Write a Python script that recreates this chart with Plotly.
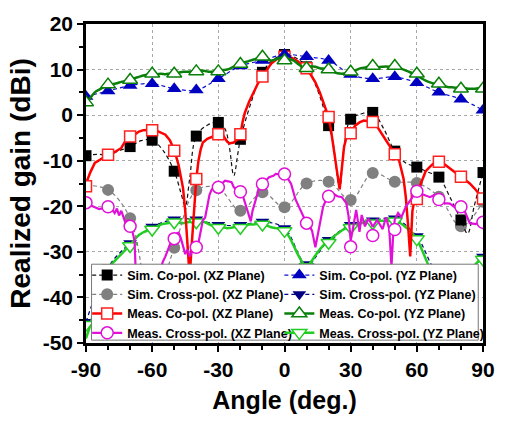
import plotly.graph_objects as go

# ---------------- data ----------------
ang10 = [-90, -80, -70, -60, -50, -40, -30, -20, -10, 0, 10, 20, 30, 40, 50, 60, 70, 80, 90]

# Sim. Co-pol. (XZ Plane): markers every 10 deg, finer simulated curve
sim_co_xz = [-8.9, -8.7, -6.9, -5.5, -12.3, -4.6, -1.6, -5.3, 9.4, 13.3, 10.6, -2.3, -0.9, 0.6, -7.9, -11.4, -13.6, -23.0, -12.6]
sim_co_xz_ang = [-90, -85, -80, -75, -70, -65, -60, -55, -50, -47, -45, -43, -40, -35, -30, -27, -25, -23, -21, -20,
                 -15, -10, -5, 0, 5, 10, 15, 20, 22, 25, 27, 30, 35, 40, 45, 50, 55, 60, 65, 70, 75, 80, 83, 86, 90]
sim_co_xz_line = [-8.9, -8.6, -8.7, -7.8, -6.9, -5.6, -5.5, -7.8, -12.3, -17.0, -20.0, -14.0, -4.6, -2.2, -1.6, -3.0, -7.0, -13.3, -8.0, -5.3,
                  3.0, 9.4, 12.2, 13.3, 12.6, 10.6, 5.5, -2.3, -6.0, -16.0, -7.0, -0.9, 0.3, 0.6, -3.0, -7.9, -10.5, -11.4, -12.5, -13.6, -18.0, -23.0, -26.0, -20.0, -12.6]

# Sim. Cross-pol. (XZ Plane)
sim_cross_xz = [-15.4, -16.4, -22.6, -42.0, -29.1, -16.5, -16.0, -21.0, -16.9, -20.2, -15.0, -14.6, -18.6, -12.7, -14.6, -14.9, -17.9, -24.4, -19.0]

# Meas. Co-pol. (XZ Plane)
meas_co_xz = [-15.6, -8.7, -4.7, -3.3, -7.8, -14.0, -4.2, -4.2, 8.5, 12.8, 10.3, -0.4, -4.0, -1.5, -8.6, -18.4, -10.2, -13.5, -18.3]
meas_co_xz_ang = [-90, -88, -86, -84, -82, -80, -78, -76, -74, -72, -70, -68, -66, -64, -62, -60, -58, -56, -54, -52, -50, -48, -46, -45,
                  -44, -43, -42, -41, -40, -39, -38, -37, -35, -33, -31, -30, -29, -28, -27, -26, -25, -24, -23, -22, -21, -20, -19, -18,
                  -16, -14, -12, -10, -8, -6, -4, -2, 0, 2, 4, 6, 8, 10, 12, 14, 16, 18, 20, 21, 22, 23, 24, 25, 26, 27, 28, 30, 32, 34,
                  36, 38, 40, 42, 44, 46, 48, 50, 52, 54, 55, 56, 57, 57.5, 58, 59, 60, 61, 62, 63, 64, 66, 68, 70, 72, 74, 76, 78, 80,
                  82, 84, 86, 88, 90]
meas_co_xz_line = [-15.0, -12.5, -10.5, -9.8, -9.3, -8.7, -8.4, -7.8, -7.2, -5.6, -4.8, -4.3, -3.6, -3.3, -3.2, -3.2, -3.4, -3.8, -4.3, -5.5, -7.6, -11.0, -16.0, -21.0,
                   -28.0, -35.5, -28.0, -20.0, -14.0, -10.0, -7.5, -6.0, -5.2, -4.8, -4.5, -4.2, -4.1, -4.3, -5.0, -5.8, -6.2, -6.1, -6.0, -5.6, -4.8, -4.2, -1.5, 0.5,
                   3.0, 5.2, 7.0, 8.5, 10.0, 11.3, 12.1, 12.6, 12.8, 12.8, 12.4, 11.8, 11.0, 10.2, 8.8, 7.2, 5.0, 2.4, -0.4, -3.0, -6.0, -9.5, -13.0, -16.3, -11.0, -7.0, -5.0, -4.0, -2.3, -1.6,
                   -1.2, -1.4, -1.5, -2.5, -4.0, -5.8, -7.2, -8.6, -10.0, -14.0, -18.0, -24.0, -31.0, -26.0, -21.0, -18.5, -17.3, -16.0, -15.0, -13.5, -12.3, -11.3, -10.4, -10.2, -10.6, -11.3, -12.0, -12.8, -13.5,
                   -14.2, -15.0, -16.0, -17.2, -18.3]

# Meas. Cross-pol. (XZ Plane)
meas_cross_xz = [-19.2, -20.1, -24.4, -45.0, -27.1, -29.0, -15.8, -16.8, -15.1, -12.9, -23.7, -17.8, -28.9, -26.4, -25.1, -16.7, -18.5, -20.1, -23.5]
meas_cross_xz_ang = [-90, -88, -86, -84, -82, -80, -78, -77, -76, -75, -74, -73, -72, -71, -70, -69, -68, -67.5, -67, -66.5, -66, -65.5, -65, -64, -63, -62,
                     -61, -60, -59, -58, -57, -56, -55, -54, -53, -52, -51, -50, -49, -48, -47, -46, -45, -44, -43, -42, -41, -40, -39, -38, -37, -36,
                     -35, -34, -33, -32, -30, -28, -27, -25, -24, -23, -22, -20, -19, -18, -17, -16, -15.3, -14.5, -13.5, -12.5, -11.5, -10, -8, -7,
                     -5, -4, -2, 0, 1, 3, 5, 7, 8, 10, 11, 12.5, 14, 15, 16, 17.5, 19, 20, 22, 24, 26, 28, 29, 30, 31, 31.6, 32.5, 34, 35, 36.5,
                     38, 39, 40, 42, 44.5, 46, 47.5, 48.5, 49.3, 50, 51.5, 53, 55, 57.5, 59, 60, 63, 66, 68, 70, 72.5, 75, 77.5, 80.5, 83, 84,
                     86.7, 89, 90]
meas_cross_xz_line = [-19.2, -19.8, -20.2, -20.6, -20.4, -20.1, -20.8, -21.5, -20.5, -22.0, -21.0, -22.5, -23.8, -23.0, -24.4, -25.5, -27.5, -34.0, -40.0, -38.0, -33.0, -36.0, -42.0, -40.0, -45.0, -48.0,
                      -49.0, -46.0, -37.0, -36.0, -34.5, -33.5, -32.0, -31.0, -29.5, -28.5, -27.5, -27.1, -26.0, -25.8, -27.0, -28.7, -30.5, -29.5, -31.0, -30.0, -29.4, -29.0, -28.0, -25.0, -23.0, -22.5,
                      -20.0, -17.5, -16.3, -16.0, -15.8, -14.8, -14.4, -14.6, -14.7, -15.8, -16.2, -16.8, -17.5, -19.0, -20.5, -22.0, -23.3, -21.0, -19.5, -17.5, -16.0, -15.1, -14.0, -13.6,
                      -13.3, -12.9, -13.0, -12.9, -13.5, -15.1, -18.5, -20.5, -21.5, -23.7, -24.0, -25.4, -29.0, -26.5, -24.4, -20.1, -18.4, -17.8, -17.2, -17.8, -18.0, -19.3, -22.0, -27.5, -25.0, -22.9, -20.8, -25.6, -21.9, -24.4,
                      -22.7, -23.5, -24.5, -23.0, -25.0, -22.4, -25.0, -33.3, -26.0, -22.9, -21.5, -22.4, -20.1, -18.4, -17.2, -16.9, -17.5, -18.0, -17.5, -18.3, -19.3, -19.4, -20.3, -19.7, -22.3, -23.7,
                      -23.9, -23.4, -25.0]

# Sim. Co-pol. (YZ Plane)
sim_co_yz = [4.1, 5.3, 6.5, 6.9, 5.8, 5.5, 8.0, 10.8, 12.0, 13.3, 12.8, 12.0, 8.9, 8.0, 8.4, 7.1, 5.0, 3.5, 1.1]

# Sim. Cross-pol. (YZ Plane)
sim_cross_yz = [-45.4, -33.4, -28.1, -24.5, -22.9, -22.9, -24.1, -24.1, -23.4, -24.8, -32.7, -27.4, -24.1, -23.1, -22.7, -26.6, -34.9, -35.2, -31.1]

# Meas. Co-pol. (YZ Plane)
meas_co_yz = [2.8, 6.7, 7.7, 9.1, 9.1, 9.6, 9.6, 11.2, 12.8, 12.0, 10.3, 10.0, 9.5, 10.8, 10.8, 9.1, 6.9, 5.8, 5.8]
ang2 = list(range(-90, 91, 2))
meas_co_yz_line = [2.5, 3.8, 5.0, 5.6, 6.1, 6.5, 6.8, 7.0, 7.3, 7.5, 7.8, 8.1, 8.4, 8.7, 8.9, 9.0, 9.0, 9.1, 9.0, 9.1, 9.2, 9.3, 9.5, 9.5, 9.6, 9.7,
                   9.8, 9.7, 9.5, 9.6, 9.8, 9.9, 10.0, 10.4, 10.9, 11.3, 11.6, 11.9, 12.2, 12.5, 12.6, 12.2, 12.0, 12.2, 12.6, 12.5, 12.3, 12.0, 11.3,
                   10.6, 10.3, 10.7, 10.6, 10.3, 10.2, 10.0, 9.6, 9.2, 9.1, 9.2, 9.4, 9.8, 10.2, 10.4, 10.6, 10.6, 10.5, 10.6, 10.7, 10.6, 10.5, 10.3,
                   10.0, 9.6, 9.2, 8.7, 8.1, 7.6, 7.2, 6.9, 6.7, 6.4, 6.2, 6.1, 6.0, 6.0, 5.9, 5.8, 5.8, 5.9, 5.9]

# Meas. Cross-pol. (YZ Plane)
meas_cross_yz = [-46.0, -34.0, -28.7, -25.1, -23.5, -23.5, -24.7, -24.7, -24.0, -25.4, -33.3, -28.0, -24.7, -23.7, -23.3, -27.2, -35.5, -35.8, -31.7]
meas_cross_yz_line = [-49.0, -46.0, -42.0, -39.0, -36.0, -33.5, -32.5, -31.5, -30.5, -29.5, -28.5, -27.3, -26.3, -25.7, -25.3, -25.0, -24.5, -24.0, -23.8, -23.6,
                      -23.5, -23.6, -23.7, -23.5, -23.4, -23.5, -23.3, -23.5, -24.0, -24.3, -24.5, -24.6, -24.8, -24.7, -24.5, -24.6, -24.3, -24.0, -24.0, -23.8,
                      -23.8, -24.2, -24.6, -24.8, -25.1, -25.5, -26.6, -28.5, -30.5, -32.2, -33.3, -32.2, -30.8, -29.5, -28.4, -27.8, -26.8, -26.0, -25.3, -24.8,
                      -24.5, -24.2, -23.8, -23.6, -23.4, -23.4, -23.3, -23.2, -23.1, -23.2, -23.4, -23.6, -24.2, -25.0, -26.0, -27.2, -29.2, -31.5, -33.7, -35.3,
                      -36.5, -37.0, -37.2, -37.2, -36.8, -36.2, -35.0, -34.0, -33.0, -32.0, -31.0]

x_ticks = [-90, -60, -30, 0, 30, 60, 90]
y_ticks = [20, 10, 0, -10, -20, -30, -40, -50]

names = {
    "sim_co_xz": "Sim. Co-pol. (XZ Plane)",
    "sim_cross_xz": "Sim. Cross-pol. (XZ Plane)",
    "meas_co_xz": "Meas. Co-pol. (XZ Plane)",
    "meas_cross_xz": "Meas. Cross-pol. (XZ Plane)",
    "sim_co_yz": "Sim. Co-pol. (YZ Plane)",
    "sim_cross_yz": "Sim. Cross-pol. (YZ Plane)",
    "meas_co_yz": "Meas. Co-pol. (YZ Plane)",
    "meas_cross_yz": "Meas. Cross-pol. (YZ Plane)",
}

# ---------------- figure ----------------
FONT = "Liberation Sans, Arial, sans-serif"
fig = go.Figure()


def add_series(name, line_x, line_y, line_shape, line_style, mk_y, marker, legend_id, rank):
    fig.add_trace(go.Scatter(x=line_x, y=line_y, mode="lines", line=dict(shape=line_shape, **line_style),
                             showlegend=False, hoverinfo="skip"))
    fig.add_trace(go.Scatter(x=ang10, y=mk_y, mode="markers", marker=marker, showlegend=False))
    fig.add_trace(go.Scatter(x=[None], y=[None], mode="lines+markers", name=name,
                             line=line_style, marker=marker, legend=legend_id, legendrank=rank))


dash_s = "4px,3px"
# drawing order (bottom to top)
add_series(names["sim_cross_yz"], ang10, sim_cross_yz, "spline",
           dict(color="#000080", width=1.2, dash=dash_s), sim_cross_yz,
           dict(symbol="triangle-down", size=12, color="#000080", line=dict(width=0)), "legend2", 2)
add_series(names["meas_cross_yz"], ang2, meas_cross_yz_line, "spline",
           dict(color="#22cc22", width=2.5), meas_cross_yz,
           dict(symbol="triangle-down", size=13, color="white", line=dict(color="#22cc22", width=1.5)), "legend2", 4)
add_series(names["sim_cross_xz"], ang10, sim_cross_xz, "spline",
           dict(color="#808080", width=1.2, dash=dash_s), sim_cross_xz,
           dict(symbol="circle", size=12, color="#808080", line=dict(width=0)), "legend", 2)
add_series(names["sim_co_xz"], sim_co_xz_ang, sim_co_xz_line, "spline",
           dict(color="#111111", width=1.2, dash=dash_s), sim_co_xz,
           dict(symbol="square", size=11, color="black", line=dict(width=0)), "legend", 1)
add_series(names["meas_co_xz"], meas_co_xz_ang, meas_co_xz_line, "linear",
           dict(color="#ff0000", width=2.5), meas_co_xz,
           dict(symbol="square", size=11, color="white", line=dict(color="#ff2020", width=1.5)), "legend", 3)
add_series(names["meas_cross_xz"], meas_cross_xz_ang, meas_cross_xz_line, "linear",
           dict(color="#e010d8", width=2.2), meas_cross_xz,
           dict(symbol="circle", size=12, color="white", line=dict(color="#e010d8", width=1.5)), "legend", 4)
add_series(names["sim_co_yz"], ang10, sim_co_yz, "spline",
           dict(color="#1010d0", width=1.2, dash=dash_s), sim_co_yz,
           dict(symbol="triangle-up", size=13, color="#0000c0", line=dict(width=0)), "legend2", 1)
add_series(names["meas_co_yz"], ang2, meas_co_yz_line, "spline",
           dict(color="#0a800a", width=2.5), meas_co_yz,
           dict(symbol="triangle-up", size=13, color="white", line=dict(color="#0a800a", width=1.5)), "legend2", 3)

axis_common = dict(
    showline=True, linecolor="black", linewidth=2.5, mirror=True,
    showgrid=True, gridcolor="#a8a8a8", gridwidth=1, griddash="dot",
    zeroline=False, ticks="outside", ticklen=6, tickwidth=2, tickcolor="black",
    tickfont=dict(family=FONT, size=21, color="black", weight="bold"),
)

fig.update_xaxes(range=[-90, 90], tickvals=x_ticks, ticktext=[str(v) for v in x_ticks],
                 minor=dict(tickvals=list(range(-80, 90, 10)), ticklen=4, tickwidth=1.5, tickcolor="black", ticks="outside", showgrid=False),
                 title=dict(text="Angle (deg.)", font=dict(family=FONT, size=25, color="black", weight="bold"), standoff=12),
                 **axis_common)
fig.update_yaxes(range=[-50, 20], tickvals=y_ticks, ticktext=[str(v) for v in y_ticks],
                 minor=dict(tickvals=list(range(-45, 20, 10)), ticklen=4, tickwidth=1.5, tickcolor="black", ticks="outside", showgrid=False),
                 title=dict(text="Realized gain (dBi)", font=dict(family=FONT, size=28, color="black", weight="bold"), standoff=4),
                 **axis_common)

legend_font = dict(family=FONT, size=12.5, color="black", weight="bold")
legend_common = dict(orientation="v", y=-0.014, yanchor="bottom", xanchor="left",
                     bgcolor="rgba(0,0,0,0)", borderwidth=0, font=legend_font,
                     itemwidth=30, tracegroupgap=0, traceorder="normal")

# legend frame (white box behind the two legend columns)
fig.add_shape(type="rect", xref="paper", yref="paper", x0=0.014, x1=0.988, y0=0.009, y1=0.247,
              fillcolor="white", line=dict(color="#777777", width=1), layer="above")

fig.update_layout(
    width=507, height=422,
    margin=dict(l=86, r=13, t=20, b=76),
    paper_bgcolor="white", plot_bgcolor="white",
    font=dict(family=FONT, color="black"),
    legend=dict(x=0.003, **legend_common),
    legend2=dict(x=0.487, **legend_common),
    showlegend=True,
)

fig.write_html("out.html")
